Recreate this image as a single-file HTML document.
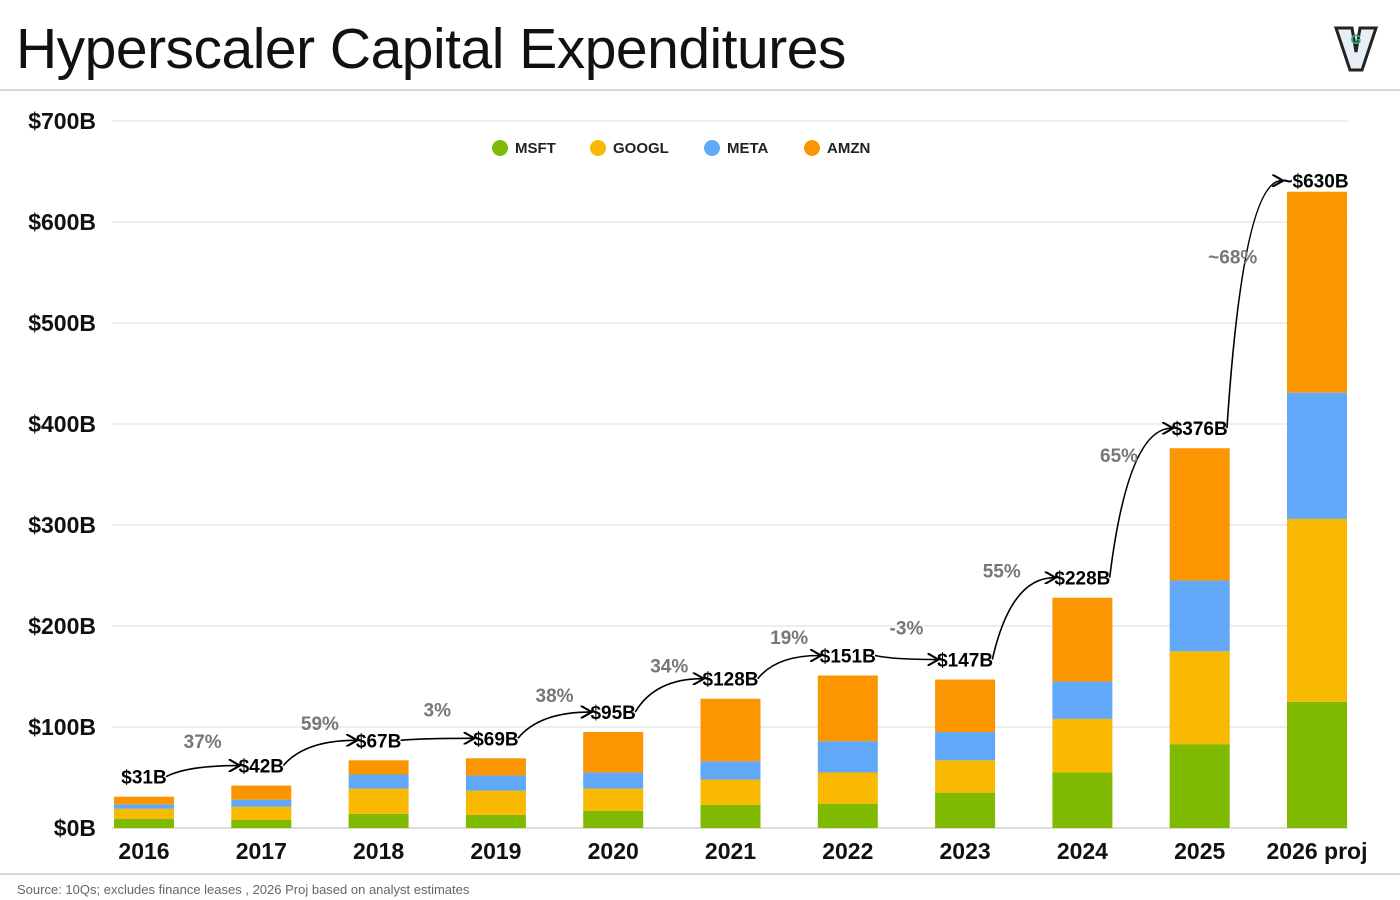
<!DOCTYPE html>
<html><head><meta charset="utf-8">
<style>
body{margin:0;background:#fff;font-family:"Liberation Sans",sans-serif;}
#wrap{position:relative;width:1400px;height:900px;overflow:hidden;}
</style></head>
<body>
<div id="wrap">
<svg id="svg" width="1400" height="900" xmlns="http://www.w3.org/2000/svg">
<text x="16" y="68" font-size="57" fill="#111" letter-spacing="-0.5">Hyperscaler Capital Expenditures</text>
<g>
<path d="M1336 28 L1352 28 L1356 52 L1360 28 L1376 28 L1362 70 L1350 70 Z" fill="#e8eef6" stroke="#222" stroke-width="3"/>
<text x="1356" y="44" font-size="14" font-weight="bold" text-anchor="middle" fill="#3a7">G</text>
</g>
<line x1="0" y1="90" x2="1400" y2="90" stroke="#ccc" stroke-width="1.5"/>
<line x1="0" y1="874" x2="1400" y2="874" stroke="#ccc" stroke-width="1.5"/>
<text x="17" y="894" font-size="13" fill="#666">Source: 10Qs; excludes finance leases , 2026 Proj based on analyst estimates</text>
<defs><marker id="ah" markerWidth="8" markerHeight="8" refX="6" refY="4" orient="auto"><path d="M0,0 L7,4 L0,8" fill="none" stroke="#000" stroke-width="1.3"/></marker></defs>
<g id="grid"></g>
<g id="bars"></g>
<g id="ann"></g>
<g id="legend"></g>
</svg>
</div>
<script>
const years = ["2016","2017","2018","2019","2020","2021","2022","2023","2024","2025","2026 proj"];
const msft  = [9, 8, 14, 13, 17, 23, 24, 35, 55, 83, 125];
const googl = [10, 13, 25, 24, 22, 25, 31, 32, 53, 92, 181];
const meta  = [4.5, 7, 14, 15, 16, 18, 31, 28, 37, 70, 125];
const amzn  = [7.5, 14, 14, 17, 40, 62, 65, 52, 83, 131, 199];
const totalLabels = ["$31B","$42B","$67B","$69B","$95B","$128B","$151B","$147B","$228B","$376B","~$630B"];
const growthLabels = ["37%","59%","3%","38%","34%","19%","-3%","55%","65%","~68%"];
const yTicks = [0,100,200,300,400,500,600,700];
const seriesNames = ["MSFT","GOOGL","META","AMZN"];
const colors = ["#7fba00","#f8b900","#61a8f8","#fb9500"];

const NS="http://www.w3.org/2000/svg";
const y0=828, pxPer=(828-121)/700;
const yS=v=>y0-v*pxPer;
const x0=144, step=117.3;
const xS=i=>x0+i*step;
const bw=60;
function el(t,a,p){const e=document.createElementNS(NS,t);for(const k in a)e.setAttribute(k,a[k]);p.appendChild(e);return e;}
const grid=document.getElementById('grid'),bars=document.getElementById('bars'),ann=document.getElementById('ann'),leg=document.getElementById('legend');
yTicks.forEach(t=>{
  const l=el('line',{x1:112,x2:1348,y1:yS(t),y2:yS(t),stroke:t===0?'#bbb':'#ddd','stroke-width':1},grid);
  
  
  const tx=el('text',{x:96,y:yS(t)+8,'font-size':23,'font-weight':'bold','text-anchor':'end',fill:'#111'},grid);
  tx.textContent='$'+t+'B';
  
  
});
const series=[msft,googl,meta,amzn];
const tops=[];
years.forEach((yr,i)=>{
  let acc=0;
  const cx=xS(i);
  series.forEach((s,k)=>{
    const yTop=yS(acc+s[i]), yBot=yS(acc);
    acc+=s[i];
    const r=el('rect',{x:cx-bw/2,y:yTop,width:bw,height:Math.max(0,yBot-yTop),fill:colors[k]},bars);
    
    
  });
  tops.push(yS(acc));
  const xl=el('text',{x:cx,y:859,'font-size':23,'font-weight':'bold','text-anchor':'middle',fill:'#111'},bars);
  xl.textContent=yr;
  
  
});
const lab=[];
totalLabels.forEach((t,i)=>{
  const last=i===totalLabels.length-1;
  const cx=xS(i)-(last?2:0), ly=tops[i]-(last?11:20);
  const tx=el('text',{x:cx,y:ly+7,'font-size':19,'font-weight':'bold','text-anchor':'middle',fill:'#000'},ann);
  tx.textContent=t;
  
  
  const w=t.length*10.5;
  lab.push({l:cx-w/2,r:cx+w/2,y:ly});
});
growthLabels.forEach((g,i)=>{
  const a=lab[i],b=lab[i+1];
  const p=el('path',{d:`M${a.r+1},${a.y} Q${a.r+(b.l-a.r)*0.3},${b.y} ${b.l-2},${b.y}`,fill:'none',stroke:'#000','stroke-width':1.6,'marker-end':'url(#ah)'},ann);
  
  
  const mid=(a.y+b.y)/2, diff=a.y-b.y, big=diff>60;
  const gx=(a.r+b.l)/2-(big?22:0);
  const gy=mid+7-(big?48:30);
  const tx=el('text',{x:gx,y:gy,'font-size':19,'font-weight':'bold','text-anchor':'middle',fill:'#777'},ann);
  tx.textContent=g;
  
  
});
const legX=[500,598,712,812];
seriesNames.forEach((n,k)=>{
  const c=el('circle',{cx:legX[k],cy:148,r:8,fill:colors[k]},leg);
  
  
  const tx=el('text',{x:legX[k]+15,y:153,'font-size':15,'font-weight':'bold',fill:'#222'},leg);
  tx.textContent=n;
  
  
});
</script>
</body></html>
